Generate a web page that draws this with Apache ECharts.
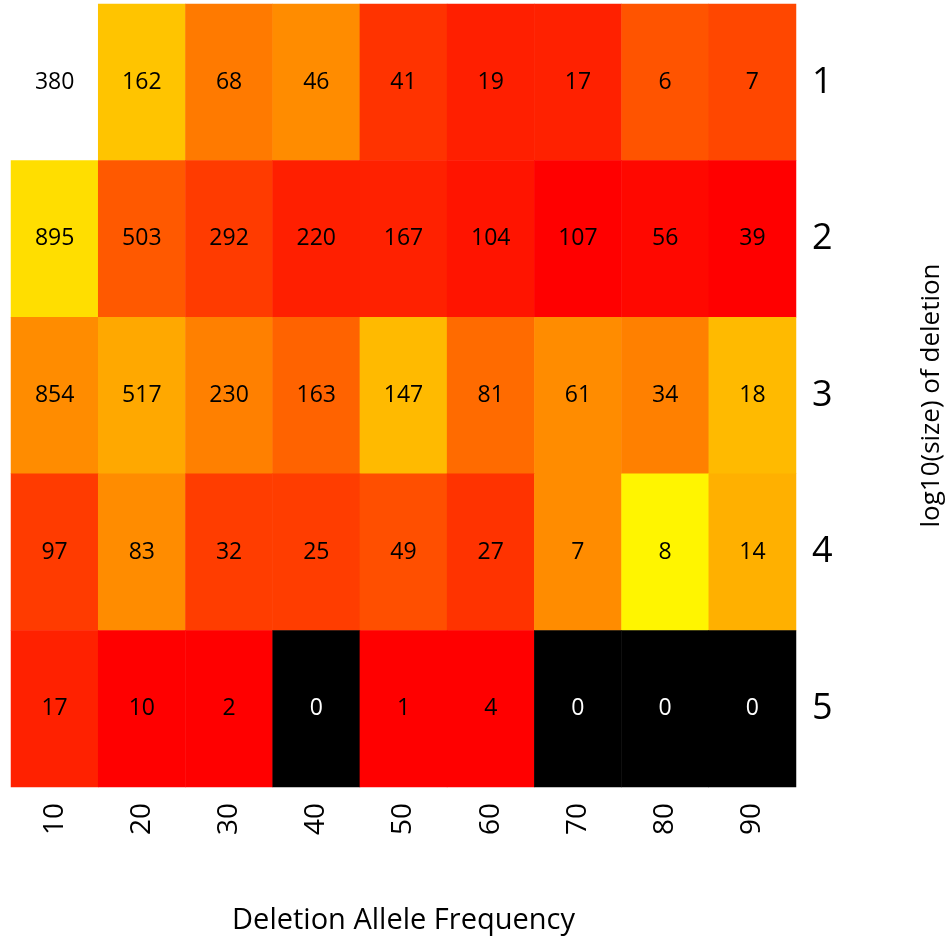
<!DOCTYPE html>
<html>
<head>
<meta charset="utf-8">
<script src="https://cdn.jsdelivr.net/npm/echarts@6/dist/echarts.min.js"></script>
<style>
  html, body { margin: 0; padding: 0; background: #fff; }
  #chart { width: 951px; height: 940px; }
</style>
</head>
<body>
<div id="chart"></div>
<script>
// Allele frequency bins (columns) and log10 deletion size classes (rows)
const freqBins = ['10', '20', '30', '40', '50', '60', '70', '80', '90'];
const sizeClasses = ['1', '2', '3', '4', '5'];

// Deletion counts per size class (row) and frequency bin (column)
const countsSize1 = [380, 162, 68, 46, 41, 19, 17, 6, 7];
const countsSize2 = [895, 503, 292, 220, 167, 104, 107, 56, 39];
const countsSize3 = [854, 517, 230, 163, 147, 81, 61, 34, 18];
const countsSize4 = [97, 83, 32, 25, 49, 27, 7, 8, 14];
const countsSize5 = [17, 10, 2, 0, 1, 4, 0, 0, 0];

// Heat level of each cell: 0 = red, 1 = yellow, 1.25 = white; null = no data
const heatSize1 = [1.25, 0.77, 0.48, 0.55, 0.20, 0.12, 0.13, 0.33, 0.28];
const heatSize2 = [0.87, 0.35, 0.23, 0.12, 0.13, 0.08, 0.00, 0.03, 0.00];
const heatSize3 = [0.55, 0.66, 0.50, 0.39, 0.73, 0.42, 0.55, 0.50, 0.73];
const heatSize4 = [0.23, 0.55, 0.24, 0.24, 0.31, 0.20, 0.55, 0.96, 0.69];
const heatSize5 = [0.13, 0.00, 0.00, null, 0.00, 0.00, null, null, null];

const counts = [countsSize1, countsSize2, countsSize3, countsSize4, countsSize5];
const heat = [heatSize1, heatSize2, heatSize3, heatSize4, heatSize5];

// heat.colors-style ramp: red -> yellow, then yellow -> white
function heatColor(h) {
  if (h === null) return '#000000';
  let g, b;
  if (h <= 1) { g = Math.round(255 * h); b = 0; }
  else { g = 255; b = Math.round(255 * Math.min(1, (h - 1) / 0.25)); }
  return 'rgb(255,' + g + ',' + b + ')';
}

const cells = [];
counts.forEach((row, r) => {
  row.forEach((v, c) => {
    const h = heat[r][c];
    cells.push({
      value: [c, r, v],
      itemStyle: { color: heatColor(h) },
      label: { color: h === null ? '#ffffff' : '#000000' }
    });
  });
});

const FONT = '"Open Sans", "Noto Sans", sans-serif';
const chart = echarts.init(document.getElementById('chart'), null, { renderer: 'canvas' });
chart.setOption({
  backgroundColor: '#ffffff',
  animation: false,
  grid: { left: 11, top: 4, width: 785, height: 783, containLabel: false, outerBoundsMode: 'none' },
  xAxis: {
    type: 'category',
    data: freqBins,
    position: 'bottom',
    axisLine: { show: false },
    axisTick: { show: false },
    splitLine: { show: false },
    axisLabel: { rotate: 90, margin: 16, fontSize: 28, color: '#000', fontFamily: FONT },
    name: 'Deletion Allele Frequency',
    nameLocation: 'middle',
    nameGap: 119,
    nameTextStyle: { fontSize: 29, color: '#000', fontFamily: FONT }
  },
  yAxis: {
    type: 'category',
    data: sizeClasses,
    inverse: true,
    position: 'right',
    axisLine: { show: false },
    axisTick: { show: false },
    splitLine: { show: false },
    axisLabel: { margin: 16, fontSize: 36, color: '#000', fontFamily: FONT },
    name: 'log10(size) of deletion',
    nameLocation: 'middle',
    nameRotate: 90,
    nameGap: 123,
    nameTextStyle: { fontSize: 26, color: '#000', fontFamily: FONT }
  },
  series: [{
    type: 'heatmap',
    data: cells,
    label: {
      show: true,
      fontSize: 23,
      fontFamily: FONT,
      formatter: p => String(p.value[2])
    },
    itemStyle: { borderWidth: 0 },
    emphasis: { disabled: true }
  }]
});
</script>
</body>
</html>
